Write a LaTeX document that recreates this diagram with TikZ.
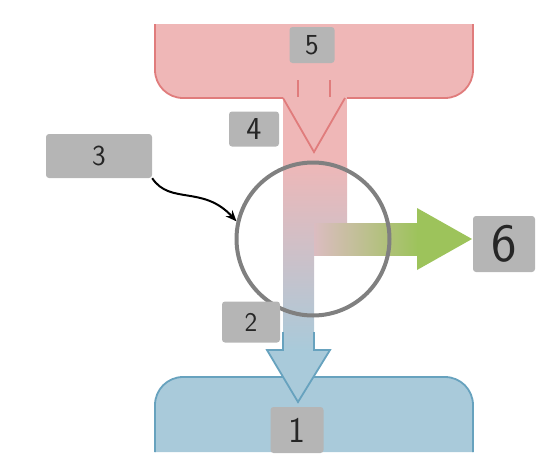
\documentclass[tikz,border=0pt]{standalone}
\usetikzlibrary{arrows.meta}
\definecolor{pinkfill}{HTML}{EFB7B7}
\definecolor{pinkline}{HTML}{E07C7C}
\definecolor{bluefill}{HTML}{A9CADA}
\definecolor{blueline}{HTML}{67A2BE}
\definecolor{greenfill}{HTML}{9DC35B}
\colorlet{stemmix}{pinkfill!72!bluefill}
\definecolor{taggray}{HTML}{B5B5B5}
\definecolor{ringgray}{HTML}{808080}
\begin{document}
\begin{tikzpicture}[x=1pt, y=-1pt,
tag/.style={fill=taggray, rounded corners=3pt, inner sep=0pt, text=black!85},
pinkedge/.style={draw=pinkline, line width=1.8pt},
blueedge/.style={draw=blueline, line width=1.8pt},
ring/.style={circle, draw=ringgray, line width=4pt, minimum size=153pt, inner sep=0pt},
arr/.style={line width=2pt, -{Stealth[length=11pt,width=9pt]}}]
\useasboundingbox (0,0) rectangle (555,464);
% top tank
\fill[pinkfill] (155,24) -- (155,70) arc[start angle=180, end angle=90, radius=28]
  -- (445,98) arc[start angle=90, end angle=0, radius=28] -- (473,24) -- cycle;
\draw[pinkedge] (298,80) -- (298,98) -- (183,98) arc[start angle=90, end angle=180, radius=28] -- (155,24);
\draw[pinkedge] (330,80) -- (330,98) -- (445,98) arc[start angle=90, end angle=0, radius=28] -- (473,24);
% bottom tank
\fill[bluefill] (155,452) -- (155,405) arc[start angle=180, end angle=270, radius=28]
  -- (445,377) arc[start angle=270, end angle=360, radius=28] -- (473,452) -- cycle;
\draw[blueedge] (155,452) -- (155,405) arc[start angle=180, end angle=270, radius=28]
  -- (445,377) arc[start angle=270, end angle=360, radius=28] -- (473,452);
% stream
\fill[pinkfill] (283,97) rectangle (347,160);
\shade[top color=pinkfill, bottom color=bluefill] (283,160) -- (347,160) -- (347,223)
  -- (314,223) -- (314,350) -- (283,350) -- cycle;
\shade[left color=stemmix, right color=greenfill] (314,223) rectangle (418,255);
\fill[greenfill] (417,208) -- (472,239) -- (417,270) -- cycle;
\draw[pinkedge] (283,98) -- (314,152) -- (345,98);
\fill[bluefill] (267,350) -- (330,350) -- (298,402) -- cycle;
\draw[blueedge] (283,332) -- (283,350) -- (267,350) -- (298,402) -- (330,350) -- (314,350) -- (314,332);
%
\node[ring] (ring) at (313,239) {};
%
\node[tag, minimum width=45pt, minimum height=36pt, font=\sffamily\fontsize{29}{29}\selectfont] (n5) at (312,45) {5};
\node[tag, minimum width=50pt, minimum height=35pt, font=\sffamily\fontsize{32}{32}\selectfont] (n4) at (254,129) {4};
\node[tag, minimum width=106pt, minimum height=44pt, font=\sffamily\fontsize{29}{29}\selectfont] (n3) at (99,156) {3};
\node[tag, minimum width=62pt, minimum height=56pt, font=\sffamily\fontsize{54}{54}\selectfont] (n6) at (504,244) {6};
\node[tag, minimum width=58pt, minimum height=41pt, font=\sffamily\fontsize{27}{27}\selectfont] (n2) at (251,322) {2};
\node[tag, minimum width=53pt, minimum height=46pt, font=\sffamily\fontsize{36}{36}\selectfont] (n1) at (297,430) {1};
%
\draw[arr] (n3.south east) .. controls (170,205) and (203,185) .. (ring.167);
\end{tikzpicture}
\end{document}
